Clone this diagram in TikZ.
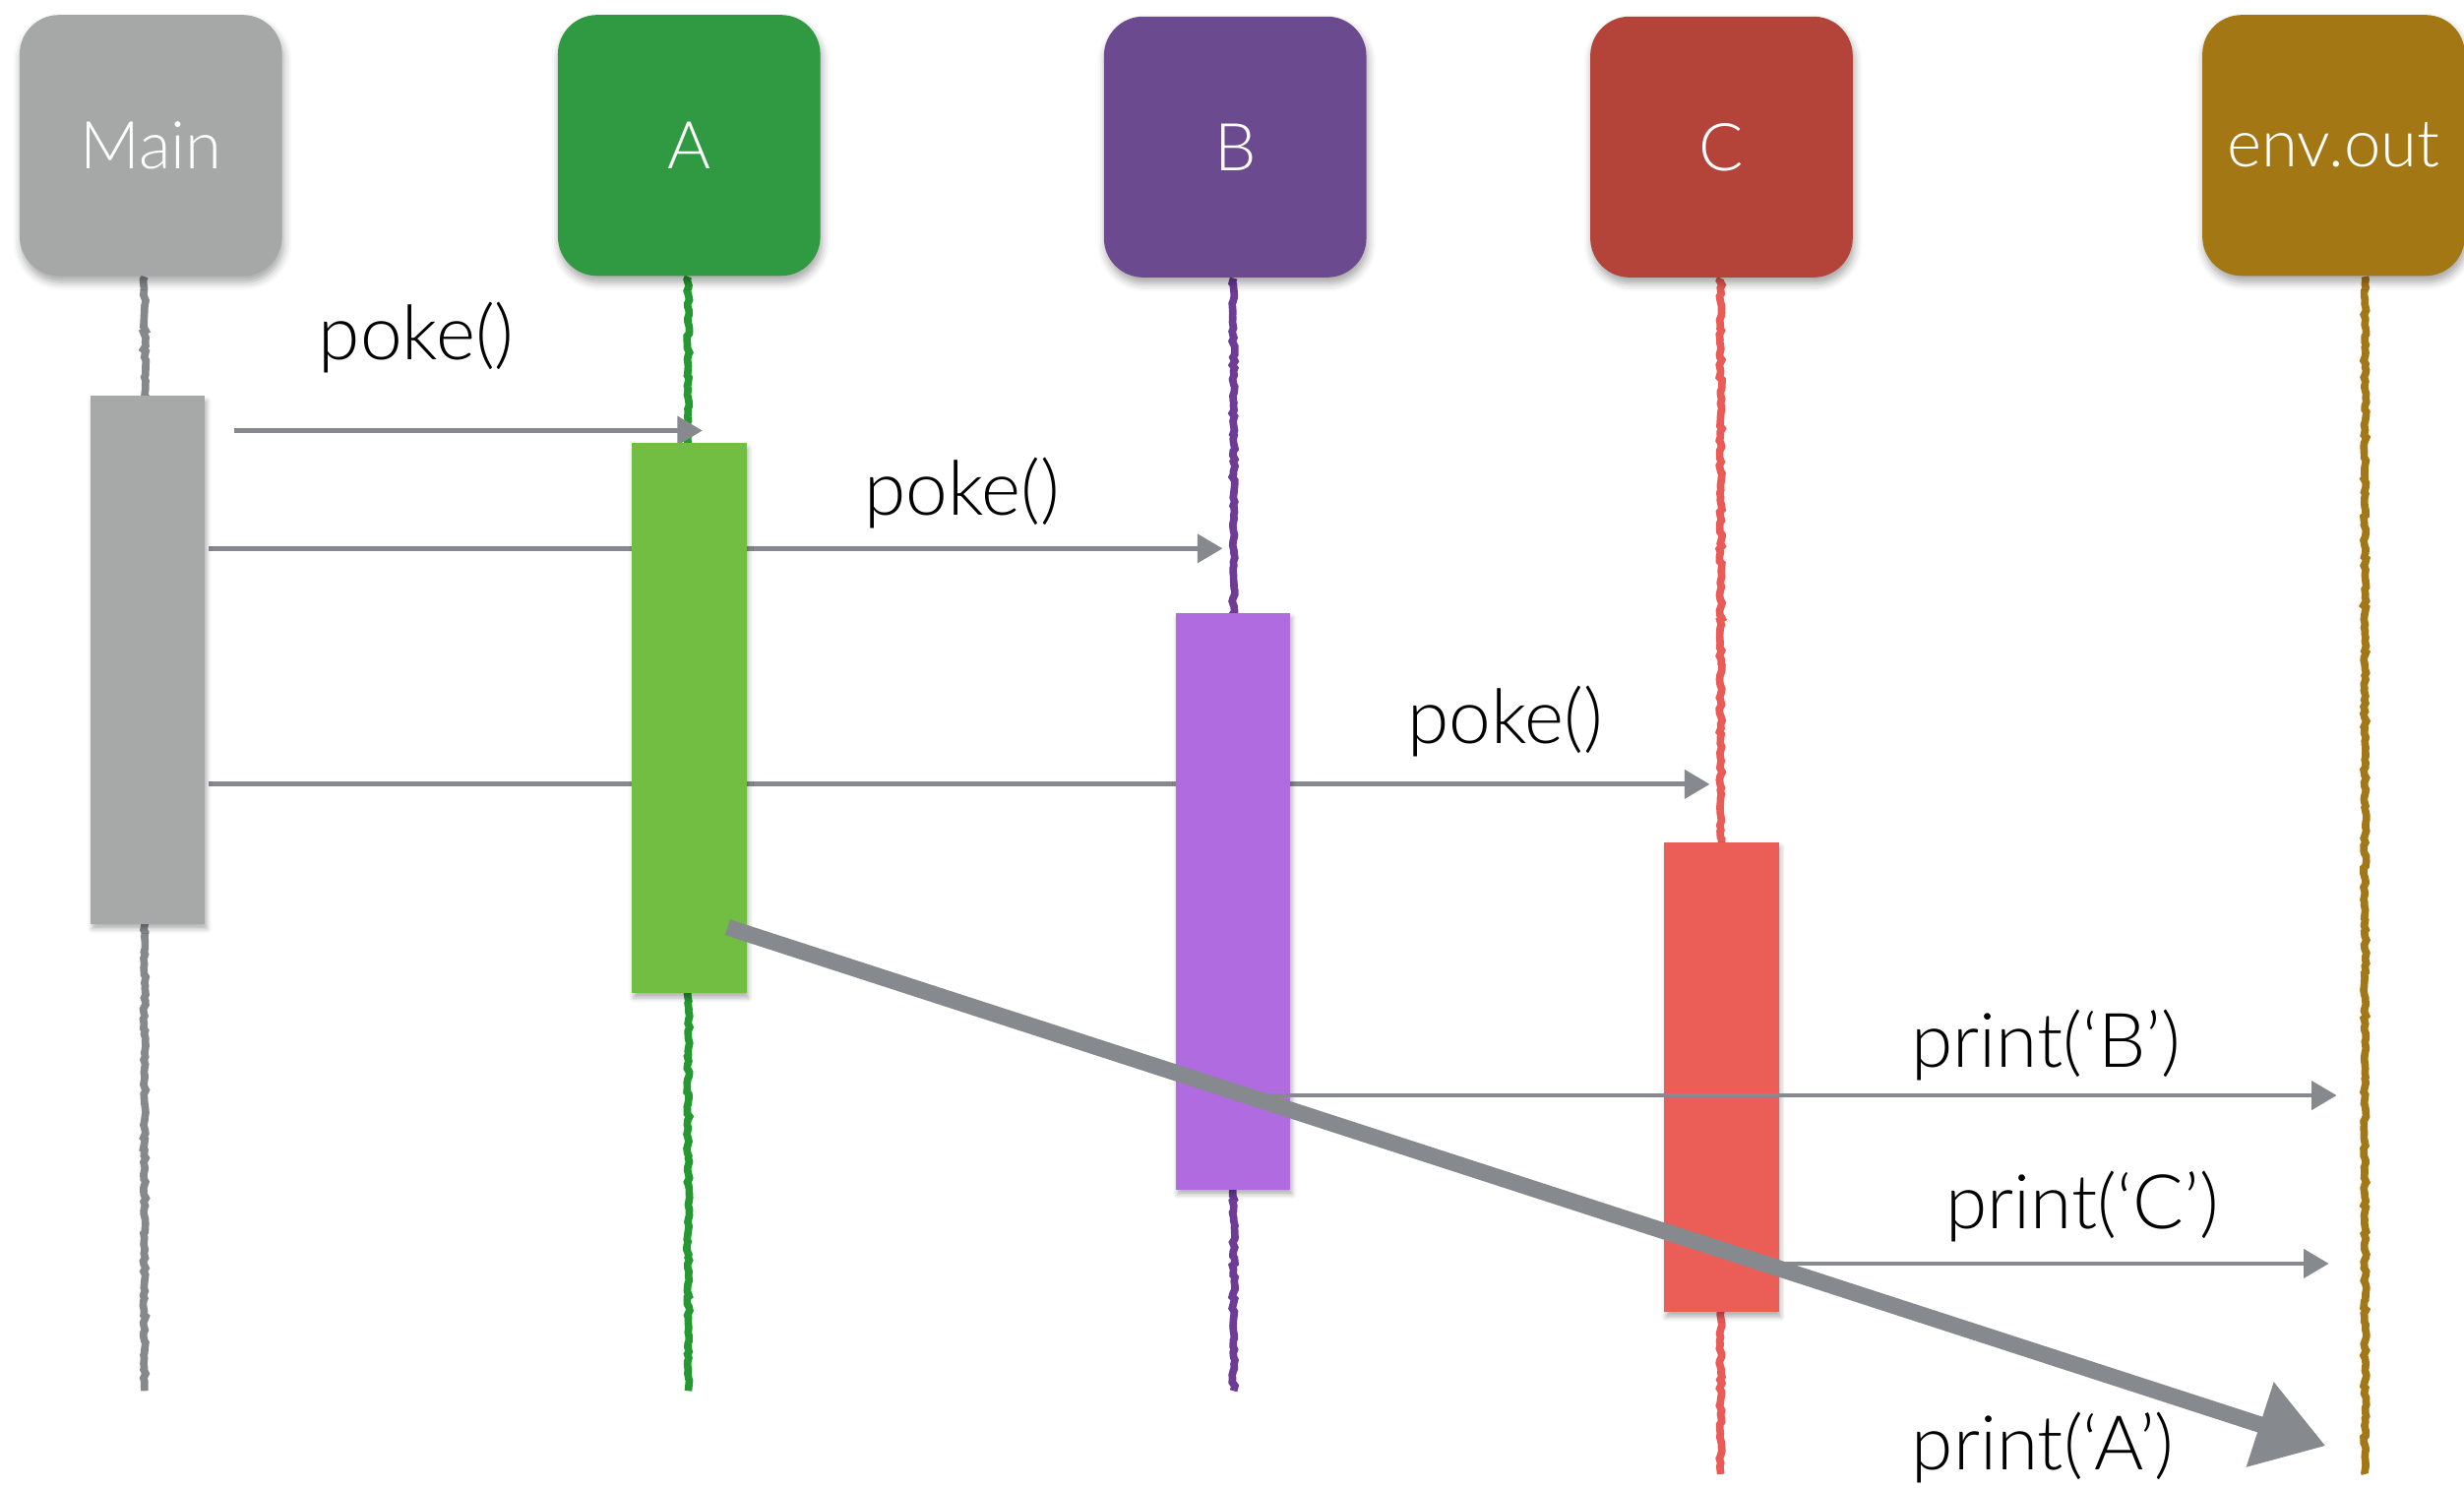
\documentclass[tikz,border=0pt]{standalone}
\usepackage{fontspec}
\setmainfont{Lato Light}
\usetikzlibrary{arrows.meta,decorations.pathmorphing,shadows.blur}

% participant colours: header, activation bar, lifeline
\definecolor{mainhead}{HTML}{A5A8A7}
\definecolor{mainbar}{HTML}{A6A9A8}
\definecolor{mainline}{HTML}{86898C}
\definecolor{ahead}{HTML}{2F9A41}
\definecolor{abar}{HTML}{71BE43}
\definecolor{aline}{HTML}{23992F}
\definecolor{bhead}{HTML}{6C4A8F}
\definecolor{bbar}{HTML}{B06BE1}
\definecolor{bline}{HTML}{6E3B97}
\definecolor{chead}{HTML}{B4443A}
\definecolor{cbar}{HTML}{EB5D57}
\definecolor{cline}{HTML}{EA5A56}
\definecolor{envhead}{HTML}{A47715}
\definecolor{envline}{HTML}{A47716}
\definecolor{msgcol}{HTML}{868A8E}

\tikzset{
  head/.style={rectangle, rounded corners=12.5pt, inner sep=0pt,
    minimum width=83.5pt, minimum height=83pt, text=white,
    font=\fontsize{21}{25}\selectfont,
    blur shadow={shadow xshift=0.5pt, shadow yshift=-2pt,
      shadow blur radius=2.5pt, shadow opacity=35}},
  bar/.style={rectangle, inner sep=0pt, minimum width=36.5pt,
    blur shadow={shadow xshift=0.6pt, shadow yshift=-1.5pt,
      shadow blur radius=1.5pt, shadow opacity=30}},
  life/.style={line width=2.4pt,
    decorate, decoration={random steps, segment length=1.2pt, amplitude=0.45pt}},
  msg/.style={draw=msgcol, line width=1.5pt,
    -{Triangle[length=8pt,width=9pt]}},
  bigmsg/.style={draw=msgcol, line width=5.2pt,
    -{Triangle[length=22pt,width=27pt]}},
  lbl/.style={inner sep=0pt, font=\fontsize{24}{28}\selectfont}
}

\begin{document}
\begin{tikzpicture}[x=0.5pt, y=-0.5pt]
\useasboundingbox (0,0) rectangle (1568,947);

% lifelines
\coordinate (mTop) at (92,176);   \coordinate (mEnd) at (92,885);
\coordinate (aTop) at (438,176);  \coordinate (aEnd) at (438,885);
\coordinate (bTop) at (785,177);  \coordinate (bEnd) at (785,885);
\coordinate (cTop) at (1095,177); \coordinate (cEnd) at (1095,938);
\coordinate (eTop) at (1505,176); \coordinate (eEnd) at (1505,938);
\draw[life, mainline] (mTop) -- (mEnd);
\draw[life, aline] (aTop) -- (aEnd);
\draw[life, bline] (bTop) -- (bEnd);
\draw[life, cline] (cTop) -- (cEnd);
\draw[life, envline] (eTop) -- (eEnd);

% participant headers
\node[head, fill=mainhead] (hMain) at (96,92.5) {Main};
\node[head, fill=ahead] (hA) at (438.5,92.5) {A};
\node[head, fill=bhead] (hB) at (786,93.5) {B};
\node[head, fill=chead] (hC) at (1095.5,93.5) {C};
\node[head, fill=envhead] (hEnv) at (1485,92.5) {env.out};

% end points of the messages
\coordinate (p1s) at (149,274);  \coordinate (p1e) at (447,274);
\coordinate (p2e) at (778,349);
\coordinate (p3e) at (1088,499);
\coordinate (pBs) at (807,697);  \coordinate (pBe) at (1487,697);
\coordinate (pCe) at (1482,804);
\coordinate (pAs) at (463,590);  \coordinate (pAe) at (1480,920);

% calls (drawn beneath the activation bars)
\draw[msg] (p1s) -- (p1e);
\draw[msg] (133,349) -- (p2e);
\draw[msg] (133,499) -- (p3e);

% activation bars
\node[bar, fill=mainbar, minimum height=168pt] (mBar) at (94,420) {};
\node[bar, fill=abar, minimum height=175pt] (aBar) at (438.5,457) {};
\node[bar, fill=bbar, minimum height=183.5pt] (bBar) at (784.5,573.5) {};
\node[bar, fill=cbar, minimum height=149.5pt] (cBar) at (1095.5,685.5) {};

% output messages
\draw[msg] (pBs) -- (pBe);
\draw[msg] (cBar.east |- pCe) -- (pCe);
\draw[bigmsg] (pAs) -- (pAe);

% labels
\node[lbl] (l1) at (265,215) {poke()};
\node[lbl] (l2) at (612,314) {poke()};
\node[lbl] (l3) at (958,459) {poke()};
\node[lbl] (lB) at (1302,665) {print(‘B’)};
\node[lbl] (lC) at (1325,768) {print(‘C’)};
\node[lbl] (lA) at (1300,921) {print(‘A’)};
\end{tikzpicture}
\end{document}
